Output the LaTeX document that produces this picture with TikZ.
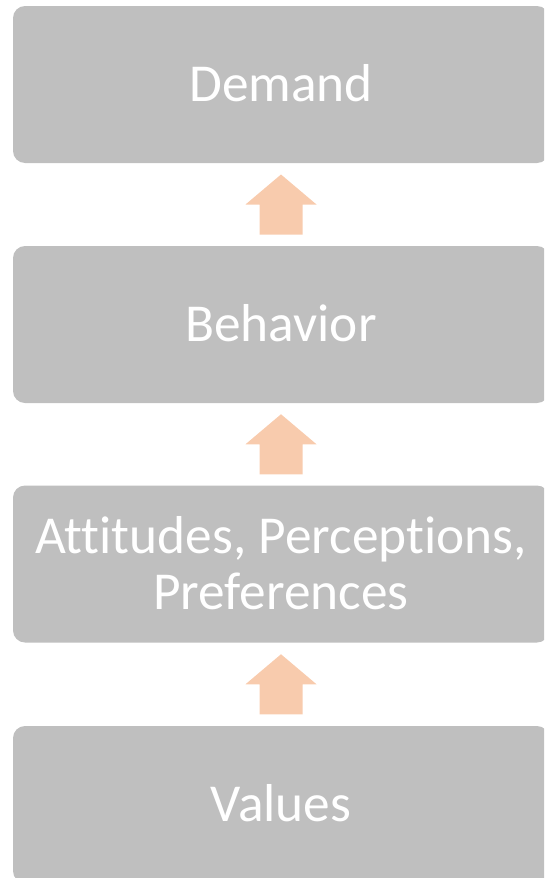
\documentclass[tikz,border=0pt]{standalone}
\usepackage{fontspec}
\setmainfont[Ligatures={NoCommon,NoRequired,NoContextual}]{Carlito}
\usetikzlibrary{calc}
\definecolor{boxgray}{HTML}{BFBFBF}
\definecolor{arroworange}{HTML}{F8CBAD}
\tikzset{
  stagebox/.style={fill=boxgray, draw=none, rounded corners=9pt, minimum width=402pt, minimum height=117.75pt,
    inner sep=0pt, text=white, align=center, font=\fontsize{40}{42}\selectfont},
  uparrow/.style={fill=arroworange, draw=none}
}
\begin{document}
\begin{tikzpicture}[x=0.75pt,y=-0.75pt]
\useasboundingbox (0,0) rectangle (544,878);
\begin{scope}
\clip (0,0) rectangle (544,878);
\node[stagebox] (b1) at (281,84.5) {\raisebox{2pt}{Demand}};
\node[stagebox] (b2) at (281,324.5) {\raisebox{2pt}{Behavior}};
\node[stagebox] (b3) at (281,564) {\raisebox{2pt}{Attitudes, Perceptions,}\\\raisebox{2pt}{Preferences}};
\node[stagebox] (b4) at (281,804.5) {\raisebox{2pt}{Values}};
\foreach \lo/\hi in {b4/b3, b3/b2, b2/b1}{
  \coordinate (m) at ($(\lo.north)!0.5!(\hi.south)$);
  \fill[uparrow] ($(m)+(0,-30)$) -- ($(m)+(35.5,0)$) -- ($(m)+(21.5,0)$) -- ($(m)+(21.5,30)$)
     -- ($(m)+(-21.5,30)$) -- ($(m)+(-21.5,0)$) -- ($(m)+(-35.5,0)$) -- cycle;
}
\end{scope}
\end{tikzpicture}
\end{document}
